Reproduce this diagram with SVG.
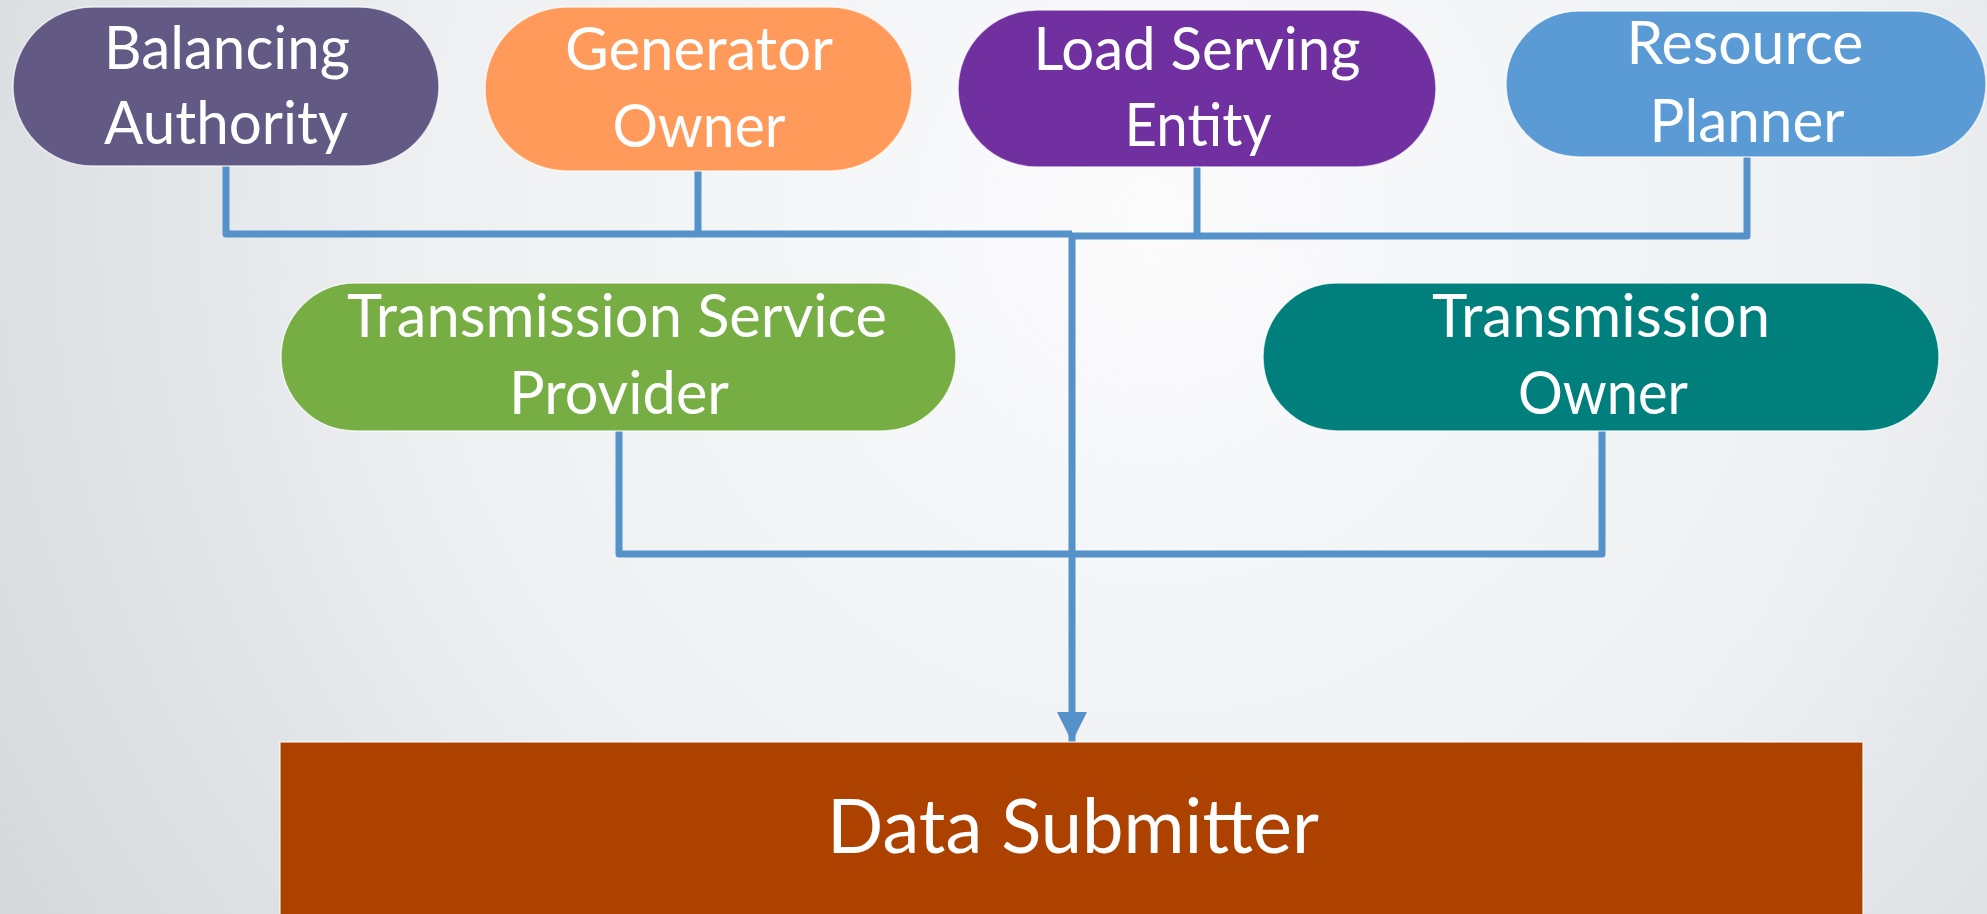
<svg xmlns="http://www.w3.org/2000/svg" width="1987" height="914" viewBox="0 0 1987 914">
<defs>
<radialGradient id="bg" cx="1150" cy="220" r="1300" gradientUnits="userSpaceOnUse">
<stop offset="0" stop-color="#fbfbfc"/>
<stop offset="0.55" stop-color="#eef0f2"/>
<stop offset="1" stop-color="#d6dadd"/>
</radialGradient>
<marker id="arr" markerWidth="30" markerHeight="30" viewBox="0 0 30 30" refX="30" refY="15" orient="auto" markerUnits="userSpaceOnUse">
<path d="M0,0 L30,15 L0,30 Z" fill="#5592c9"/>
</marker>
</defs>
<style>
.node{stroke:#ffffff;stroke-opacity:0.7;stroke-width:1.5}
.t{font-family:Lato,"Open Sans","Liberation Sans",sans-serif;fill:#ffffff;font-size:60px;text-anchor:middle}
.big{font-size:76px}
.c{fill:none;stroke:#5592c9;stroke-width:7;stroke-linejoin:round;stroke-linecap:butt}
</style>
<rect width="1987" height="914" fill="url(#bg)"/>
<g id="connectors">
<path class="c" d="M226,166 V234 H1072"/>
<path class="c" d="M698,170 V234"/>
<path class="c" d="M1072,236 H1747 V157"/>
<path class="c" d="M1197,166 V236"/>
<path class="c" d="M619,430 V554 H1602 V430"/>
<path class="c" d="M1072,233 V742" marker-end="url(#arr)"/>
</g>
<g id="balancing-authority">
<rect class="node" x="13" y="7" width="426" height="159" rx="79.5" fill="#635985"/>
<text class="t" x="227" y="69" textLength="246" lengthAdjust="spacingAndGlyphs">Balancing</text>
<text class="t" x="226" y="144" textLength="244" lengthAdjust="spacingAndGlyphs">Authority</text>
</g>
<g id="generator-owner">
<rect class="node" x="485" y="7" width="427" height="164" rx="82" fill="#ff9a5a"/>
<text class="t" x="699" y="70" textLength="268" lengthAdjust="spacingAndGlyphs">Generator</text>
<text class="t" x="699" y="147" textLength="173" lengthAdjust="spacingAndGlyphs">Owner</text>
</g>
<g id="load-serving-entity">
<rect class="node" x="958" y="10" width="478" height="157" rx="78.5" fill="#7030a0"/>
<text class="t" x="1197" y="70" textLength="327" lengthAdjust="spacingAndGlyphs">Load Serving</text>
<text class="t" x="1198" y="146" textLength="147" lengthAdjust="spacingAndGlyphs">Entity</text>
</g>
<g id="resource-planner">
<rect class="node" x="1506" y="11" width="480" height="146" rx="73" fill="#5b9bd5"/>
<text class="t" x="1745" y="64" textLength="237" lengthAdjust="spacingAndGlyphs">Resource</text>
<text class="t" x="1747" y="142" textLength="195" lengthAdjust="spacingAndGlyphs">Planner</text>
</g>
<g id="transmission-service-provider">
<rect class="node" x="281" y="283" width="675" height="148" rx="74" fill="#76ae43"/>
<text class="t" x="617" y="337" textLength="540" lengthAdjust="spacingAndGlyphs">Transmission Service</text>
<text class="t" x="619" y="414" textLength="220" lengthAdjust="spacingAndGlyphs">Provider</text>
</g>
<g id="transmission-owner">
<rect class="node" x="1263" y="283" width="676" height="148" rx="74" fill="#017f7d"/>
<text class="t" x="1601" y="337" textLength="338" lengthAdjust="spacingAndGlyphs">Transmission</text>
<text class="t" x="1603" y="414" textLength="170" lengthAdjust="spacingAndGlyphs">Owner</text>
</g>
<g id="data-submitter">
<rect class="node" x="280" y="742" width="1583" height="180" fill="#ad4100"/>
<text class="t big" x="1073" y="853" textLength="492" lengthAdjust="spacingAndGlyphs">Data Submitter</text>
</g>
</svg>
